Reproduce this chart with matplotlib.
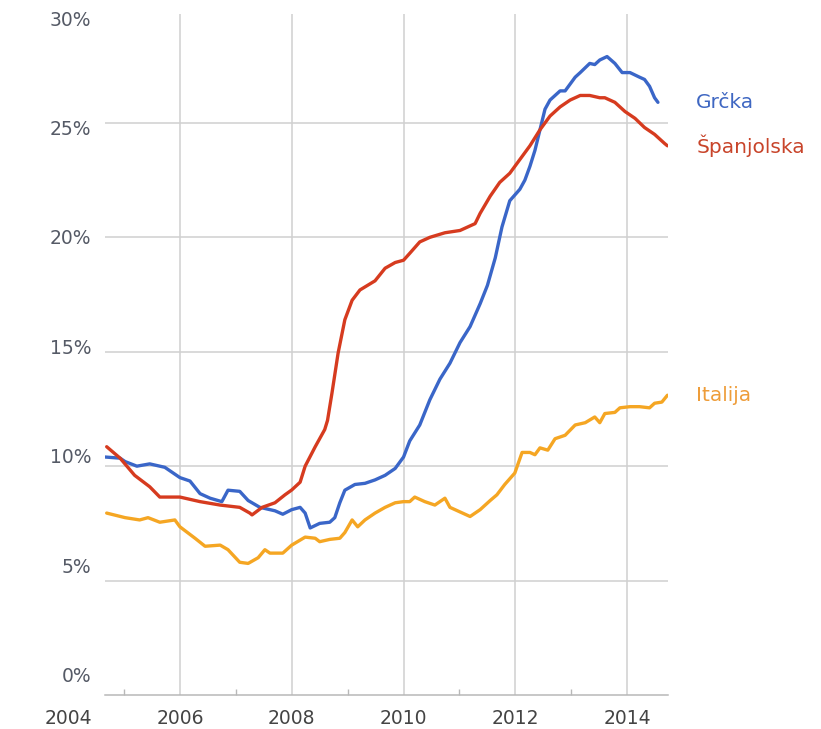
"""Unemployment rate: Greece, Spain, Italy 2004-2014 (line chart recreation)."""
import matplotlib

matplotlib.use("Agg")
import matplotlib.pyplot as plt  # noqa: E402
from matplotlib.transforms import blended_transform_factory  # noqa: E402

# values (decimal year, % unemployment)
GR_YEARS = [2004.66, 2004.93, 2005.02, 2005.23, 2005.46, 2005.73, 2006.0, 2006.18,
            2006.36, 2006.54, 2006.75, 2006.86, 2007.07, 2007.22, 2007.43, 2007.70,
            2007.84, 2008.0, 2008.15, 2008.24, 2008.33, 2008.50, 2008.68, 2008.77,
            2008.86, 2008.95, 2009.13, 2009.31, 2009.49, 2009.67, 2009.85, 2010.0,
            2010.11, 2010.29, 2010.47, 2010.65, 2010.83, 2011.01, 2011.19, 2011.37,
            2011.50, 2011.64, 2011.76, 2011.90, 2012.08, 2012.17, 2012.26, 2012.35,
            2012.44, 2012.53, 2012.62, 2012.80, 2012.89, 2012.98, 2013.07, 2013.16,
            2013.33, 2013.42, 2013.51, 2013.64, 2013.78, 2013.91, 2014.05, 2014.22,
            2014.31, 2014.40, 2014.49, 2014.55]
GR_VALUES = [10.4, 10.35, 10.2, 10.0, 10.1, 9.95, 9.5, 9.35,
             8.8, 8.6, 8.45, 8.95, 8.9, 8.5, 8.2, 8.05,
             7.9, 8.1, 8.2, 7.95, 7.3, 7.5, 7.55, 7.75,
             8.4, 8.95, 9.2, 9.25, 9.4, 9.6, 9.9, 10.4,
             11.1, 11.8, 12.9, 13.8, 14.5, 15.4, 16.1, 17.1,
             17.9, 19.1, 20.45, 21.6, 22.1, 22.5, 23.1, 23.8,
             24.7, 25.6, 26.0, 26.4, 26.4, 26.7, 27.0, 27.2,
             27.6, 27.55, 27.75, 27.9, 27.6, 27.2, 27.2, 27.0,
             26.9, 26.6, 26.1, 25.9]

ES_YEARS = [2004.69, 2004.93, 2005.19, 2005.46, 2005.64, 2006.0, 2006.36, 2006.72,
            2007.07, 2007.25, 2007.29, 2007.47, 2007.70, 2007.88, 2008.0, 2008.15,
            2008.24, 2008.42, 2008.59, 2008.64, 2008.72, 2008.83, 2008.95, 2009.08,
            2009.22, 2009.49, 2009.67, 2009.85, 2010.0, 2010.11, 2010.29, 2010.47,
            2010.74, 2011.01, 2011.19, 2011.28, 2011.37, 2011.55, 2011.72, 2011.90,
            2012.08, 2012.26, 2012.44, 2012.62, 2012.80, 2012.98, 2013.16, 2013.33,
            2013.51, 2013.60, 2013.78, 2013.96, 2014.14, 2014.31, 2014.49, 2014.67,
            2014.72]
ES_VALUES = [10.85, 10.35, 9.6, 9.1, 8.65, 8.65, 8.45, 8.3,
             8.2, 7.95, 7.87, 8.2, 8.4, 8.75, 8.96, 9.3,
             10.0, 10.85, 11.6, 12.0, 13.2, 14.95, 16.4, 17.25,
             17.7, 18.1, 18.65, 18.9, 19.0, 19.3, 19.8, 20.0,
             20.2, 20.3, 20.5, 20.6, 21.05, 21.8, 22.4, 22.8,
             23.4, 24.0, 24.7, 25.3, 25.7, 26.0, 26.2, 26.2,
             26.1, 26.1, 25.9, 25.5, 25.2, 24.8, 24.5, 24.1,
             24.0]

IT_YEARS = [2004.69, 2005.02, 2005.28, 2005.43, 2005.64, 2005.91, 2006.0, 2006.27,
            2006.45, 2006.72, 2006.86, 2007.07, 2007.22, 2007.40, 2007.52, 2007.61,
            2007.84, 2008.0, 2008.24, 2008.42, 2008.50, 2008.68, 2008.86, 2008.95,
            2009.08, 2009.18, 2009.31, 2009.49, 2009.67, 2009.85, 2010.0, 2010.11,
            2010.20, 2010.38, 2010.56, 2010.74, 2010.83, 2011.01, 2011.19, 2011.37,
            2011.55, 2011.67, 2011.81, 2011.99, 2012.12, 2012.26, 2012.35, 2012.44,
            2012.58, 2012.71, 2012.89, 2013.07, 2013.25, 2013.42, 2013.51, 2013.60,
            2013.78, 2013.87, 2014.05, 2014.22, 2014.40, 2014.49, 2014.62, 2014.72]
IT_VALUES = [7.95, 7.75, 7.65, 7.75, 7.55, 7.65, 7.35, 6.85,
             6.5, 6.55, 6.35, 5.8, 5.75, 6.0, 6.35, 6.2,
             6.2, 6.55, 6.9, 6.85, 6.7, 6.8, 6.85, 7.1,
             7.65, 7.35, 7.65, 7.95, 8.2, 8.4, 8.45, 8.45,
             8.65, 8.45, 8.3, 8.6, 8.2, 8.0, 7.8, 8.1,
             8.5, 8.75, 9.2, 9.7, 10.6, 10.6, 10.5, 10.8,
             10.7, 11.2, 11.35, 11.8, 11.9, 12.15, 11.9, 12.3,
             12.35, 12.55, 12.6, 12.6, 12.55, 12.75, 12.8, 13.1]

SERIES = [
    ("Grčka", GR_YEARS, GR_VALUES, "#3a66c8", "#3f67c2"),
    ("Španjolska", ES_YEARS, ES_VALUES, "#d63b1f", "#c8442a"),
    ("Italija", IT_YEARS, IT_VALUES, "#f5a623", "#ee9d3a"),
]

YEAR_LABELS = [2004, 2006, 2008, 2010, 2012, 2014]
MINOR_YEARS = [2005, 2007, 2009, 2011, 2013]
PCT_LABELS = ["30%", "25%", "20%", "15%", "10%", "5%", "0%"]

GRID = "#d0d0d0"
W, H = 821, 729


def main() -> None:
    fig = plt.figure(figsize=(W / 100, H / 100), dpi=100)
    ax = fig.add_axes([105 / W, 1 - 695 / H, 563 / W, (695 - 14) / H])
    ax.set_xlim(2004.66, 2014.73)
    ax.set_ylim(0, 29.76)

    for y in range(5, 30, 5):
        ax.axhline(y, color=GRID, lw=1.1, zorder=1)
    for x in YEAR_LABELS[1:]:
        ax.axvline(x, color=GRID, lw=1.1, zorder=1)

    for name, xs, ys, c, tc in SERIES:
        ax.plot(xs, ys, color=c, lw=2.4, solid_joinstyle="round",
                solid_capstyle="round", zorder=3)

    # series labels sit just right of the plot, level with each line's end
    lab_tr = blended_transform_factory(ax.transAxes, ax.transData)
    for name, xs, ys, c, tc in SERIES:
        ax.text(1.05, ys[-1], name, transform=lab_tr, color=tc, fontsize=14.5,
                va="center", ha="left", clip_on=False)

    for side in ("top", "right", "left"):
        ax.spines[side].set_visible(False)
    ax.spines["bottom"].set_color("#b8b8b8")
    ax.spines["bottom"].set_linewidth(1.1)
    ax.set_yticks([])
    ax.set_xticks(MINOR_YEARS)
    ax.set_xticklabels([])
    ax.tick_params(axis="x", direction="in", length=4.5, width=1, color="#b8b8b8")

    xl_tr = blended_transform_factory(ax.transData, fig.transFigure)
    for yr in YEAR_LABELS:
        ax.text(yr, 1 - 718 / H, str(yr), transform=xl_tr, ha="center", va="center",
                fontsize=13.5, color="#444444", clip_on=False)

    # y labels are offset from the grid in the source image
    for i, lab in enumerate(PCT_LABELS):
        fig.text(91 / W, 1 - (20 + i * 109.5) / H, lab, ha="right", va="center",
                 fontsize=13.5, color="#555a66")

    fig.savefig("out.png", dpi=100, facecolor="white")


if __name__ == "__main__":
    main()
